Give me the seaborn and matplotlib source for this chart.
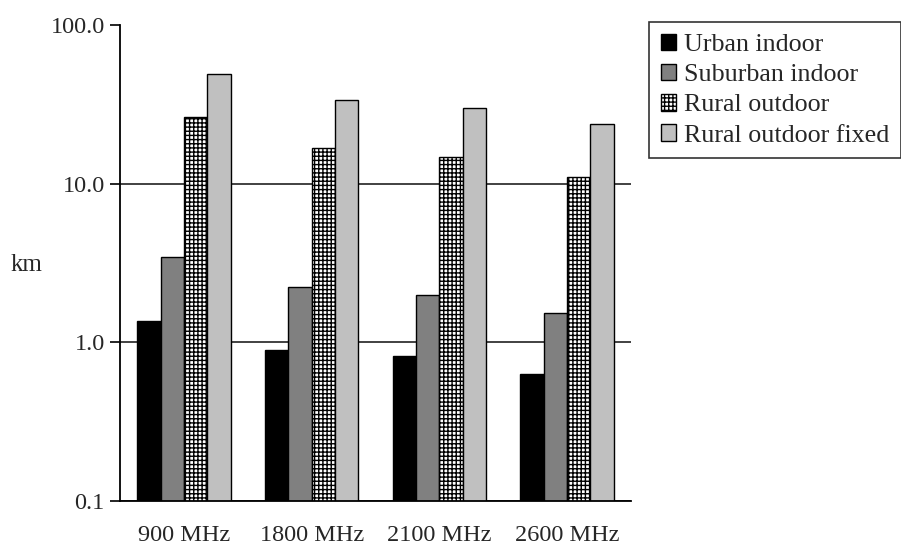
"""
Cell range by frequency band and deployment scenario (log scale).
"""

import pandas as pd
import matplotlib.pyplot as plt
import seaborn as sns

bands = ["900 MHz", "1800 MHz", "2100 MHz", "2600 MHz"]
scenarios = ["Urban indoor", "Suburban indoor", "Rural outdoor", "Rural outdoor fixed"]
urban_indoor = [1.36, 0.90, 0.82, 0.63]
suburban_indoor = [3.44, 2.23, 1.98, 1.52]
rural_outdoor = [26.4, 16.7, 14.7, 11.0]
rural_outdoor_fixed = [49.0, 33.5, 30.1, 23.7]
y_ticks = [0.1, 1, 10, 100]
y_labels = ["0.1", "1.0", "10.0", "100.0"]

COLORES = ["#000000", "#808080", "#ffffff", "#c0c0c0"]

sns.set_theme(style="white")
plt.rcParams["font.family"] = ["Liberation Serif", "DejaVu Serif"]
plt.rcParams["hatch.linewidth"] = 1.0
plt.rcParams["hatch.color"] = "black"

df = pd.DataFrame({
    "band": bands * 4,
    "scenario": [s for s in scenarios for _ in bands],
    "km": urban_indoor + suburban_indoor + rural_outdoor + rural_outdoor_fixed,
})

fig = plt.figure(figsize=(9.01, 5.46), dpi=100)
ax = fig.add_axes([120 / 901, 1 - 501 / 546, (631 - 120) / 901, (501 - 25) / 546])

sns.barplot(data=df, x="band", y="km", hue="scenario", order=bands,
            hue_order=scenarios, palette=COLORES, width=0.73, saturation=1,
            edgecolor="black", linewidth=1.0, legend=False, ax=ax)

for bar in ax.containers[2]:
    bar.set_hatch("++++")

ax.set_yscale("log")
ax.set_ylim(0.1, 100)
ax.set_yticks(y_ticks)
ax.set_yticklabels(y_labels)
ax.yaxis.set_minor_locator(plt.NullLocator())
ax.set_xlim(-0.5, len(bands) - 0.5)

# categorías centradas, marcas en los límites
ax.set_xticks(range(len(bands)))
ax.set_xticks([i - 0.5 for i in range(len(bands) + 1)], minor=True)
ax.tick_params(axis="x", which="major", length=0, pad=17, labelsize=17.5)
ax.tick_params(axis="x", which="minor", length=8, width=1.2, direction="out", color="black")
ax.tick_params(axis="y", length=7, width=1.2, direction="out", color="black",
               labelsize=17.5, pad=4, left=True)

ax.set_axisbelow(True)
ax.yaxis.grid(True, color="#333333", linewidth=1.3)
ax.yaxis.get_major_ticks()[-1].gridline.set_visible(False)
ax.xaxis.grid(False)

for lado in ["top", "right"]:
    ax.spines[lado].set_visible(False)
for lado in ["left", "bottom"]:
    ax.spines[lado].set_color("black")
    ax.spines[lado].set_linewidth(1.3)

ax.set_xlabel("")
ax.set_ylabel("km", fontsize=18, rotation=0, ha="center", va="center")
ax.yaxis.set_label_coords((27 - 120) / 511, (501 - 265) / 476)

handles = [c[0] for c in ax.containers]
leg = ax.legend(handles, scenarios, loc="upper left",
                bbox_to_anchor=(649 / 901, 1 - 22 / 546), bbox_transform=fig.transFigure,
                borderaxespad=0, fontsize=18.7, frameon=True, fancybox=False,
                handlelength=0.6, handleheight=0.6, handletextpad=0.3,
                labelspacing=0.3, borderpad=0.45)
leg.get_frame().set_edgecolor("black")
leg.get_frame().set_linewidth(1.2)

plt.savefig("out.png", dpi=100)
plt.close()
